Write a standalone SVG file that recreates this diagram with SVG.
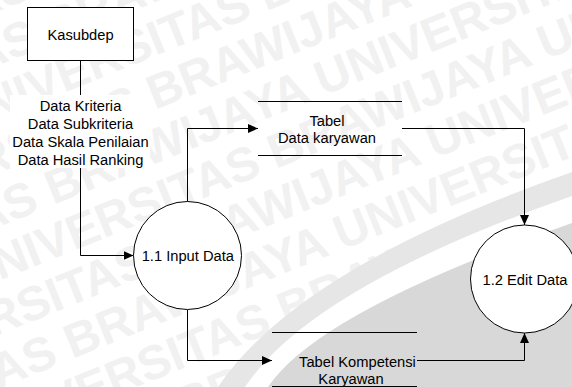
<svg xmlns="http://www.w3.org/2000/svg" width="572" height="387" viewBox="0 0 572 387">
  <style>
    .wm { font-family: "Liberation Sans", Arial, sans-serif; font-weight: bold; font-size: 48px; fill: #f1f1f1; }
    .lbl { font-family: "Liberation Sans", Arial, sans-serif; font-size: 14.7px; fill: #000; text-anchor: middle; }
    .shape { fill: #fff; stroke: #000; stroke-width: 1; }
    .flow { fill: none; stroke: #000; stroke-width: 1; marker-end: url(#arrow); }
    .store { stroke: #000; stroke-width: 1; }
  </style>
  <defs>
    <marker id="arrow" markerUnits="userSpaceOnUse" markerWidth="10" markerHeight="9" refX="10" refY="4.5" orient="auto">
      <path d="M0,0 L10,4.5 L0,9 Z" fill="#000"/>
    </marker>
  </defs>

  <!-- page background -->
  <rect x="0" y="0" width="572" height="387" fill="#fff"/>

  <!-- faint diagonal watermark -->
  <g id="watermark" transform="rotate(-22)">
    <text class="wm" x="-180" y="10">UNIVERSITAS BRAWIJAYA UNIVERSITAS BRAWIJAYA</text>
    <text class="wm" x="-300" y="60">UNIVERSITAS BRAWIJAYA UNIVERSITAS BRAWIJAYA</text>
    <text class="wm" x="-90" y="110">UNIVERSITAS BRAWIJAYA UNIVERSITAS BRAWIJAYA</text>
    <text class="wm" x="-230" y="160">UNIVERSITAS BRAWIJAYA UNIVERSITAS BRAWIJAYA</text>
    <text class="wm" x="-360" y="210">UNIVERSITAS BRAWIJAYA UNIVERSITAS BRAWIJAYA</text>
    <text class="wm" x="-140" y="260">UNIVERSITAS BRAWIJAYA UNIVERSITAS BRAWIJAYA</text>
    <text class="wm" x="-280" y="310">UNIVERSITAS BRAWIJAYA UNIVERSITAS BRAWIJAYA</text>
    <text class="wm" x="-400" y="360">UNIVERSITAS BRAWIJAYA UNIVERSITAS BRAWIJAYA</text>
    <text class="wm" x="-190" y="410">UNIVERSITAS BRAWIJAYA UNIVERSITAS BRAWIJAYA</text>
    <text class="wm" x="-320" y="460">UNIVERSITAS BRAWIJAYA UNIVERSITAS BRAWIJAYA</text>
    <text class="wm" x="-450" y="510">UNIVERSITAS BRAWIJAYA UNIVERSITAS BRAWIJAYA</text>
    <text class="wm" x="-240" y="560">UNIVERSITAS BRAWIJAYA UNIVERSITAS BRAWIJAYA</text>
  </g>

  <!-- grey swoosh in the lower right -->
  <g id="swoosh">
    <path d="M218,387 Q298,268 572,172 L572,387 Z" fill="#e6e6e6"/>
    <path d="M245,387 Q311.6,287 572,196 L572,387 Z" fill="#fff"/>
    <path d="M268,387 Q318,312 572,223 L572,387 Z" fill="#d8d8d8"/>
  </g>

  <!-- connectors -->
  <g id="connectors">
    <path class="flow" d="M80.5,61 V255.5 H133.5"/>
    <path class="flow" d="M187.5,201.5 V128.5 H258"/>
    <path class="flow" d="M402,128.5 H524.5 V225"/>
    <path class="flow" d="M187.5,309.5 V360.5 H272"/>
    <path class="flow" d="M417,360.5 H524.5 V333"/>
    <g id="flow-label">
      <rect x="10" y="95" width="140" height="73" fill="#fff"/>
      <text class="lbl" x="80.5" y="110.8">Data Kriteria</text>
      <text class="lbl" x="80.5" y="128.8">Data Subkriteria</text>
      <text class="lbl" x="80.5" y="146.8">Data Skala Penilaian</text>
      <text class="lbl" x="80.5" y="164.8">Data Hasil Ranking</text>
    </g>
  </g>

  <!-- external entity -->
  <g id="kasubdep">
    <rect class="shape" x="27.5" y="7.5" width="106" height="53"/>
    <text class="lbl" x="80.5" y="39.5">Kasubdep</text>
  </g>

  <!-- processes -->
  <g id="input-data">
    <circle class="shape" cx="187.5" cy="255.5" r="54"/>
    <text class="lbl" x="187.8" y="260.5">1.1 Input Data</text>
  </g>
  <g id="edit-data">
    <circle class="shape" cx="524.5" cy="279" r="54"/>
    <text class="lbl" x="525" y="285">1.2 Edit Data</text>
  </g>

  <!-- data stores -->
  <g id="tabel-data-karyawan">
    <line class="store" x1="258" y1="101.5" x2="402" y2="101.5"/>
    <line class="store" x1="258" y1="155.5" x2="402" y2="155.5"/>
    <text class="lbl" x="327" y="125.5">Tabel</text>
    <text class="lbl" x="327" y="142.5">Data karyawan</text>
  </g>
  <g id="tabel-kompetensi-karyawan">
    <line class="store" x1="272" y1="332.5" x2="417" y2="332.5"/>
    <line class="store" x1="272" y1="386.5" x2="417" y2="386.5"/>
    <text class="lbl" x="357.5" y="366.7">Tabel Kompetensi</text>
    <text class="lbl" x="351" y="384">Karyawan</text>
  </g>
</svg>
